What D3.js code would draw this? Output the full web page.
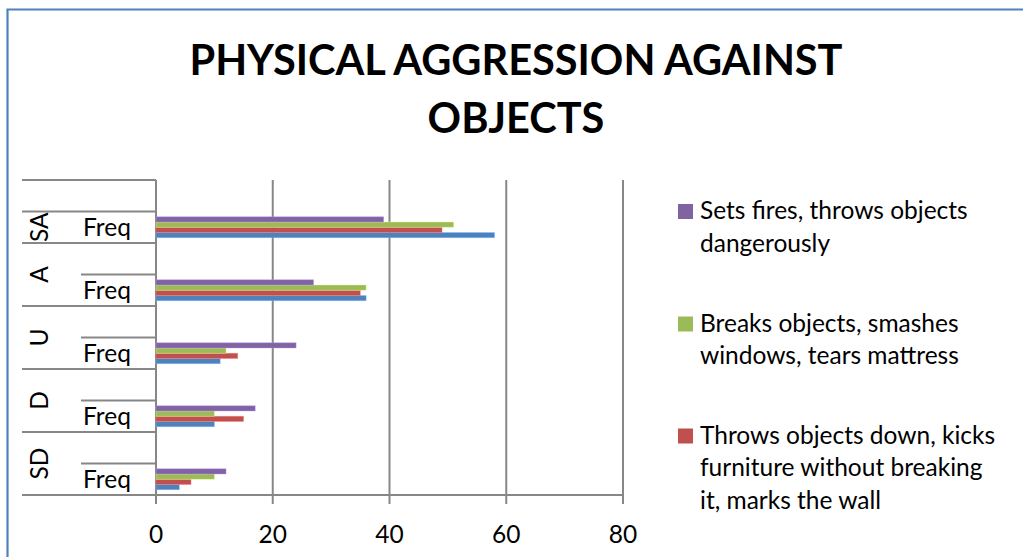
<!DOCTYPE html>
<html>
<head>
<meta charset="utf-8">
<script src="https://cdn.jsdelivr.net/npm/d3@7"></script>
<style>
  html, body { margin: 0; padding: 0; background: #ffffff; }
  svg { display: block; font-family: Lato, "Open Sans", sans-serif; }
</style>
</head>
<body>
<svg id="chart" width="1023" height="557"></svg>
<script>
// ---- data -------------------------------------------------------------
// Two-level category axis: outer response level, inner statistic.
// Rows are listed top to bottom; blank rows carry no values.
const rowOuter = ["", "SA", "A", "A", "U", "U", "D", "D", "SD", "SD"];
const rowInner = ["", "Freq", "", "Freq", "", "Freq", "", "Freq", "", "Freq"];

const slamsDoor  = [null, 58, null, 36, null, 11, null, 10, null, 4];
const throwsDown = [null, 49, null, 35, null, 14, null, 15, null, 6];
const breaksObj  = [null, 51, null, 36, null, 12, null, 10, null, 10];
const setsFires  = [null, 39, null, 27, null, 24, null, 17, null, 12];

const seriesNames = [
  "Slams door, scatters clothing, makes a mess",
  "Throws objects down, kicks furniture without breaking it, marks the wall",
  "Breaks objects, smashes windows, tears mattress",
  "Sets fires, throws objects dangerously"
];
// legend text broken into its display lines
const legendLines = [
  ["Slams door, scatters clothing,", "makes a mess"],
  ["Throws objects down, kicks", "furniture without breaking", "it, marks the wall"],
  ["Breaks objects, smashes", "windows, tears mattress"],
  ["Sets fires, throws objects", "dangerously"]
];
const seriesColors = ["#4f81bd", "#c0504d", "#9bbb59", "#8064a2"];
const xTicks = [0, 20, 40, 60, 80];
const titleLines = ["PHYSICAL AGGRESSION AGAINST", "OBJECTS"];

// ---- setup ------------------------------------------------------------
const svg = d3.select("#chart");
const W = 1023, H = 557;
const gridColor = "#878787";
const labelSize = 24.5;

const series = [slamsDoor, throwsDown, breaksObj, setsFires].map((vals, i) => ({
  key: i, name: seriesNames[i], values: vals, color: seriesColors[i], lines: legendLines[i]
}));

// chart frame (top and left edges)
svg.append("path")
  .attr("d", `M7.5,${H} V9.5 H${W}`)
  .attr("fill", "none")
  .attr("stroke", "#4f81bd")
  .attr("stroke-width", 2.2);

// title
svg.append("text")
  .attr("text-anchor", "middle")
  .attr("font-weight", 700)
  .attr("font-size", 41.5)
  .attr("fill", "#000")
  .selectAll("tspan")
  .data(titleLines)
  .join("tspan")
  .attr("x", 516)
  .attr("y", (d, i) => 75 + i * 58)
  .text(d => d);

// scales
const x = d3.scaleLinear().domain([0, 80]).range([156, 623]);
const y = d3.scaleBand().domain(d3.range(rowOuter.length)).range([180, 495]).padding(0);
// series drawn top-to-bottom in reverse order inside each row
const ySeries = d3.scaleBand()
  .domain(series.map(s => s.key).reverse())
  .range([0, y.bandwidth()])
  .paddingInner(0)
  .paddingOuter(1);

// vertical gridlines and tick marks
svg.append("g")
  .selectAll("line")
  .data(xTicks)
  .join("line")
  .attr("x1", d => x(d)).attr("x2", d => x(d))
  .attr("y1", y.range()[0]).attr("y2", y.range()[1] + 9)
  .attr("stroke", gridColor)
  .attr("stroke-width", 2);

// x tick labels
svg.append("g")
  .attr("font-size", labelSize)
  .attr("fill", "#000")
  .attr("text-anchor", "middle")
  .selectAll("text")
  .data(xTicks)
  .join("text")
  .attr("x", d => x(d))
  .attr("y", 543)
  .text(d => d);

// category boundaries: group edges span both label columns, inner edges only the inner column
const boundaries = d3.range(rowOuter.length + 1).map(i => {
  const yPos = i < rowOuter.length ? y(i) : y.range()[1];
  const isGroupEdge = i === 0 || i === rowOuter.length || rowOuter[i] !== rowOuter[i - 1];
  return { yPos, isGroupEdge };
});
svg.append("g")
  .selectAll("line")
  .data(boundaries)
  .join("line")
  .attr("x1", d => d.isGroupEdge ? 22 : 81)
  .attr("x2", x(0))
  .attr("y1", d => d.yPos).attr("y2", d => d.yPos)
  .attr("stroke", gridColor)
  .attr("stroke-width", 2);

// value axis baseline
svg.append("line")
  .attr("x1", x(0)).attr("x2", x(80))
  .attr("y1", y.range()[1]).attr("y2", y.range()[1])
  .attr("stroke", gridColor)
  .attr("stroke-width", 2);

// inner category labels
svg.append("g")
  .attr("font-size", labelSize)
  .attr("fill", "#000")
  .selectAll("text")
  .data(rowInner.map((t, i) => ({ t, i })).filter(d => d.t))
  .join("text")
  .attr("x", 83)
  .attr("y", d => y(d.i) + y.bandwidth() / 2)
  .attr("dy", "0.35em")
  .text(d => d.t);

// outer category labels, rotated, centred on their group
const groups = d3.groups(rowOuter.map((g, i) => ({ g, i })), d => d.g).filter(([g]) => g);
svg.append("g")
  .attr("font-size", labelSize)
  .attr("fill", "#000")
  .selectAll("text")
  .data(groups)
  .join("text")
  .attr("text-anchor", "middle")
  .attr("transform", ([g, rows]) => {
    const top = y(rows[0].i), bottom = y(rows[rows.length - 1].i) + y.bandwidth();
    return `translate(48,${(top + bottom) / 2}) rotate(-90)`;
  })
  .text(([g]) => g);

// bars
series.forEach(s => {
  svg.append("g")
    .selectAll("rect")
    .data(s.values.map((v, i) => ({ v, i })).filter(d => d.v != null))
    .join("rect")
    .attr("x", x(0))
    .attr("y", d => y(d.i) + ySeries(s.key))
    .attr("width", d => x(d.v) - x(0))
    .attr("height", ySeries.bandwidth())
    .attr("fill", s.color)
    .attr("stroke", d3.color(s.color).brighter(1.2))
    .attr("stroke-opacity", 0.5)
    .attr("stroke-width", 0.8);
});

// legend, listed from the last series down; entries below the frame's
// visible height are left out
const legendTop = [219, 331.5, 443.5, 587];
const lineH = 32.5;
const legend = svg.append("g").attr("font-size", labelSize).attr("fill", "#000");
series.slice().reverse().forEach((s, k) => {
  const base = legendTop[k];
  if (base - 15 >= H) return;
  legend.append("rect")
    .attr("x", 678).attr("y", base - 15)
    .attr("width", 15).attr("height", 15)
    .attr("fill", s.color);
  legend.append("text")
    .selectAll("tspan")
    .data(s.lines)
    .join("tspan")
    .attr("x", 700)
    .attr("y", (d, j) => base + j * lineH)
    .text(d => d);
});
</script>
</body>
</html>
